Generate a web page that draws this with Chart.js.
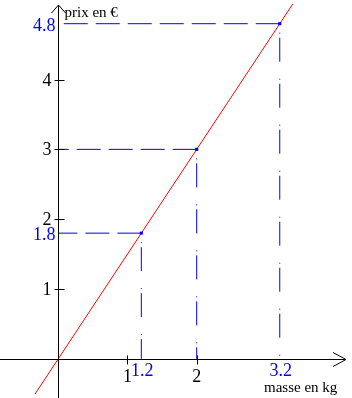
<!DOCTYPE html>
<html>
<head>
<meta charset="utf-8">
<script src="https://cdn.jsdelivr.net/npm/chart.js@4"></script>
<style>
body { margin: 0; background: #fff; }
canvas { display: block; }
</style>
</head>
<body>
<canvas id="chart" width="352" height="398"></canvas>
<script>
// values
const pointX = [1.2, 2, 3.2];
const pointY = [1.8, 3, 4.8];
const lineX = [-0.35, 3.42];
const lineY = [-0.525, 5.13];
const xTicks = [1, 2];
const yTicks = [1, 2, 3, 4];
const xMarked = [1.2, 3.2];
const yMarked = [1.8, 4.8];
const xRange = [-0.784, 4.186];
const yRange = [-0.504, 5.082];
const xAxisEnd = 4.155;
const yAxisEnd = 5.07;

const BLUE = "#0000ff";
const FONT = "'Liberation Serif', 'Times New Roman', serif";

let datasets = [];

datasets.push({
    label: "points",
    data: pointX.map((x, i) => ({x: x, y: pointY[i]})),
    pointStyle: "rect",
    pointRadius: 2.2,
    backgroundColor: BLUE,
    borderWidth: 0,
    showLine: false
});

datasets.push({
    label: "prix",
    data: lineX.map((x, i) => ({x: x, y: lineY[i]})),
    borderColor: "#ff0000",
    borderWidth: 1,
    pointRadius: 0,
    showLine: true
});

// dashed guides, drawn from the point towards the axes
for (let i = 0; i < pointX.length; i++) {
    datasets.push({
        label: "h" + i,
        data: [{x: pointX[i], y: pointY[i]}, {x: 0, y: pointY[i]}],
        borderColor: BLUE,
        borderWidth: 1,
        borderDash: [24, 8],
        pointRadius: 0,
        showLine: true
    });
    datasets.push({
        label: "v" + i,
        data: [{x: pointX[i], y: pointY[i]}, {x: pointX[i], y: 0}],
        borderColor: BLUE,
        borderWidth: 1,
        borderDash: [24, 17, 1, 4],
        borderDashOffset: 32,
        pointRadius: 0,
        showLine: true
    });
}

const axesPlugin = {
    id: "axes",
    afterDatasetsDraw(chart) {
        const ctx = chart.ctx;
        const xs = chart.scales.x;
        const ys = chart.scales.y;
        const ox = Math.round(xs.getPixelForValue(0)) + 0.5;
        const oy = Math.round(ys.getPixelForValue(0)) + 0.5;
        const xEnd = Math.round(xs.getPixelForValue(xAxisEnd));
        const yEnd = Math.round(ys.getPixelForValue(yAxisEnd));

        ctx.save();
        ctx.strokeStyle = "#000";
        ctx.lineWidth = 1;
        ctx.beginPath();
        // x axis + arrow
        ctx.moveTo(0, oy);
        ctx.lineTo(xEnd, oy);
        ctx.moveTo(xEnd - 13, oy - 7);
        ctx.lineTo(xEnd, oy);
        ctx.lineTo(xEnd - 13, oy + 7);
        // y axis + arrow
        ctx.moveTo(ox, chart.height);
        ctx.lineTo(ox, yEnd);
        ctx.moveTo(ox - 7, yEnd + 8);
        ctx.lineTo(ox, yEnd);
        ctx.lineTo(ox + 7, yEnd + 8);
        // ticks
        xTicks.forEach(v => {
            const px = Math.round(xs.getPixelForValue(v)) + 0.5;
            ctx.moveTo(px, oy - 4);
            ctx.lineTo(px, oy + 5);
        });
        yTicks.forEach(v => {
            const py = Math.round(ys.getPixelForValue(v)) + 0.5;
            ctx.moveTo(ox - 4, py);
            ctx.lineTo(ox + 6, py);
        });
        ctx.stroke();

        ctx.font = "18px " + FONT;
        ctx.textBaseline = "alphabetic";
        ctx.fillStyle = "#000";
        ctx.textAlign = "center";
        xTicks.forEach(v => {
            ctx.fillText(String(v), xs.getPixelForValue(v), oy + 22);
        });
        ctx.textAlign = "right";
        yTicks.forEach(v => {
            ctx.fillText(String(v), ox - 7, ys.getPixelForValue(v) + 6);
        });

        ctx.fillStyle = BLUE;
        ctx.textAlign = "center";
        xMarked.forEach(v => {
            ctx.fillText(String(v), xs.getPixelForValue(v) + 1, oy + 16);
        });
        ctx.textAlign = "right";
        yMarked.forEach(v => {
            ctx.fillText(String(v), ox - 3, ys.getPixelForValue(v) + 7);
        });

        ctx.font = "15px " + FONT;
        ctx.fillStyle = "#000";
        ctx.textAlign = "left";
        ctx.fillText("prix en €", ox + 6, yEnd + 12);
        ctx.fillText("masse en kg", xEnd - 82, chart.height - 6);
        ctx.restore();
    }
};

new Chart("chart", {
    type: "scatter",
    data: {datasets: datasets},
    plugins: [axesPlugin],
    options: {
        responsive: false,
        animation: false,
        events: [],
        layout: {padding: 0},
        plugins: {
            legend: {display: false},
            tooltip: {enabled: false}
        },
        scales: {
            x: {type: "linear", display: false, min: xRange[0], max: xRange[1]},
            y: {type: "linear", display: false, min: yRange[0], max: yRange[1]}
        }
    }
});
</script>
</body>
</html>
